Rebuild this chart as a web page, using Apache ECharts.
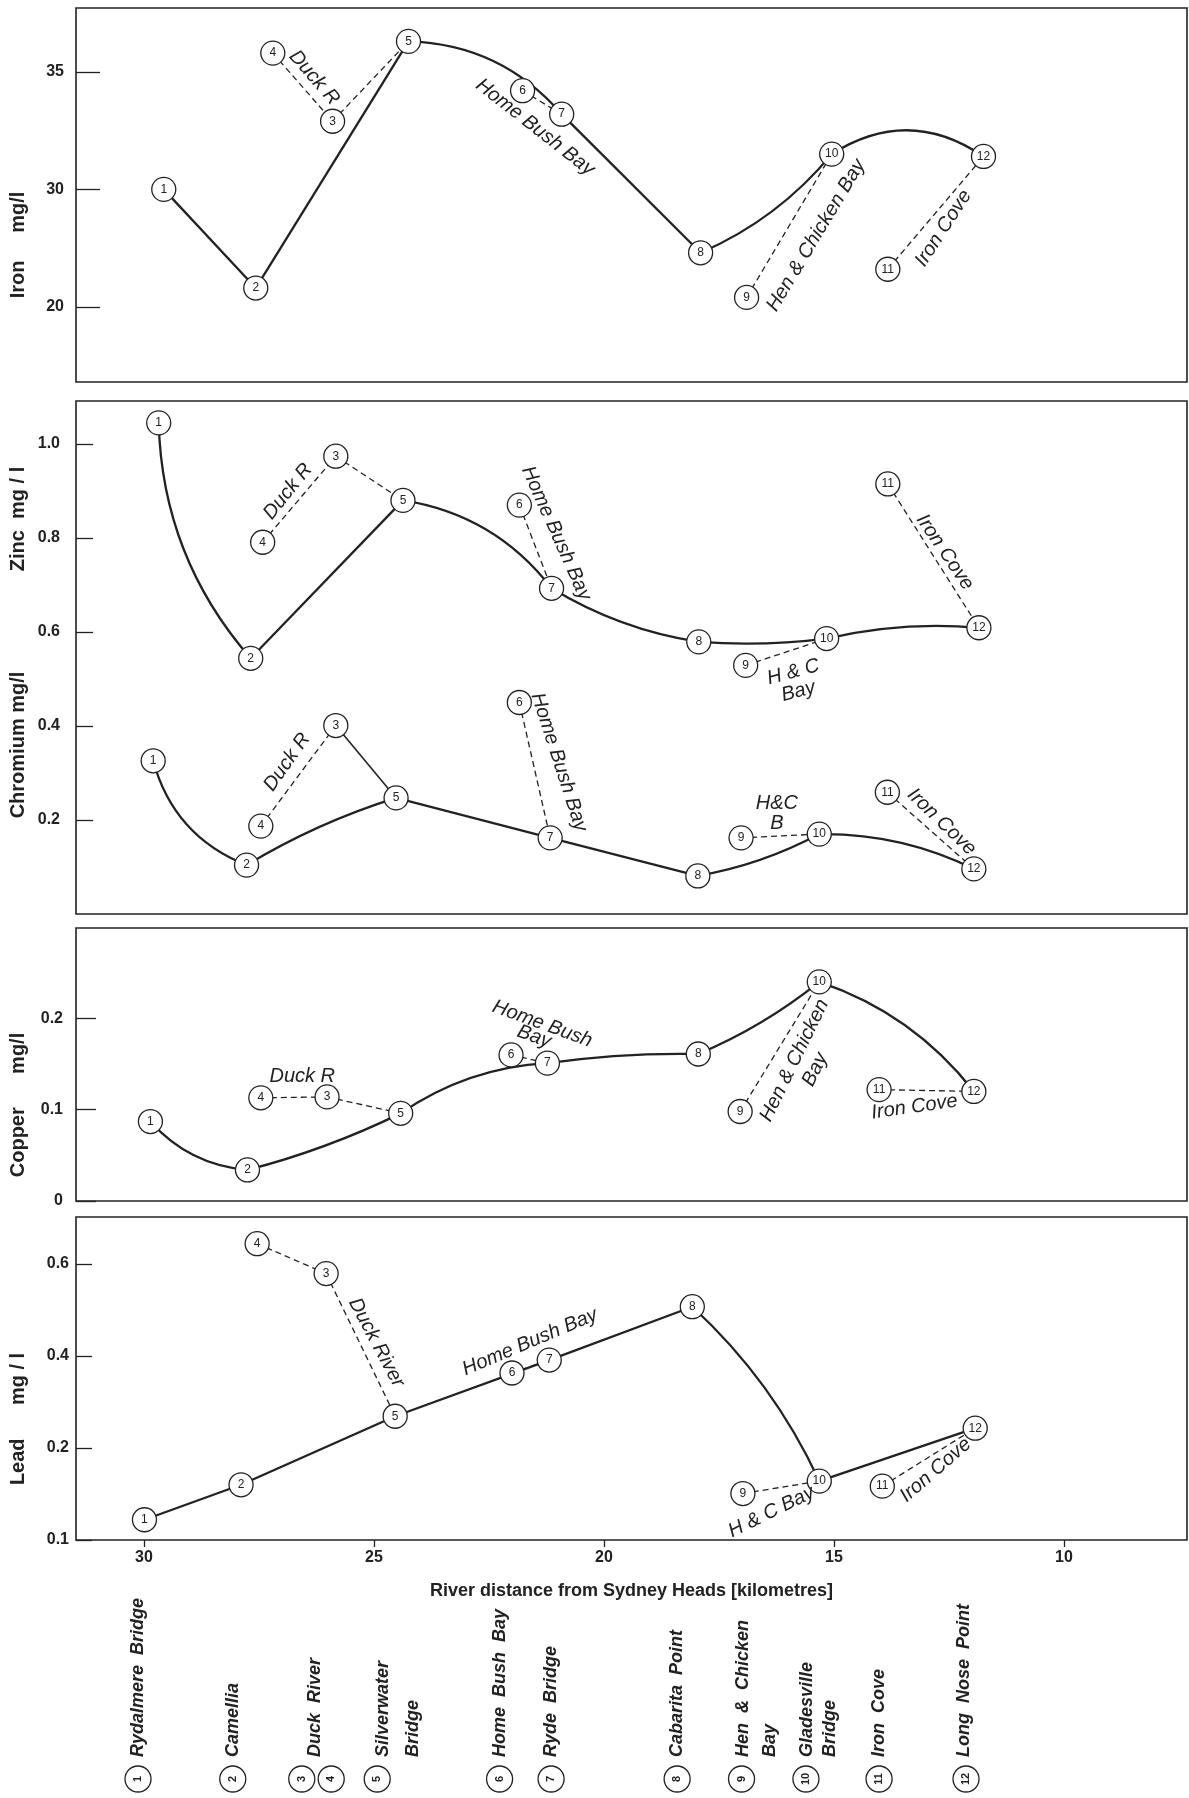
<!DOCTYPE html>
<html>
<head>
<meta charset="utf-8">
<title>Parramatta River - heavy metals</title>
<script src="https://cdn.jsdelivr.net/npm/echarts@6/dist/echarts.min.js"></script>
<style>
html, body { margin: 0; padding: 0; background: #fff; }
#chart { width: 1189px; height: 1798px; }
</style>
</head>
<body>
<div id="chart"></div>
<script>
// sampling stations 1..12
const stationNo = ['1', '2', '3', '4', '5', '6', '7', '8', '9', '10', '11', '12'];

// river distance from Sydney Heads (km) where each station is plotted, per panel (hand drawn, so they drift a bit)
const ironKm = [29.57, 27.57, 25.90, 27.20, 24.25, 21.77, 20.92, 17.90, 16.90, 15.05, 13.83, 11.75];
const zincKm = [29.68, 27.68, 25.83, 27.42, 24.37, 21.84, 21.14, 17.94, 16.92, 15.16, 13.83, 11.85];
const chromiumKm = [29.80, 27.77, 25.83, 27.46, 24.52, 21.84, 21.17, 17.96, 17.02, 15.32, 13.84, 11.96];
const copperKm = [29.86, 27.75, 26.02, 27.46, 24.42, 22.02, 21.23, 17.95, 17.04, 15.32, 14.02, 11.96];
const leadKm = [29.99, 27.89, 26.04, 27.54, 24.54, 22.00, 21.19, 18.08, 16.98, 15.32, 13.95, 11.93];

// concentrations (mg/l) per station 1..12
const iron = [30.0, 25.8, 32.9, 35.8, 36.3, 34.2, 33.2, 27.3, 25.4, 31.5, 26.6, 31.4];
const zinc = [1.045, 0.544, 0.974, 0.791, 0.880, 0.870, 0.693, 0.579, 0.529, 0.586, 0.915, 0.609];
const chromium = [0.326, 0.104, 0.401, 0.187, 0.247, 0.450, 0.162, 0.081, 0.162, 0.170, 0.259, 0.096];
const copper = [0.087, 0.034, 0.114, 0.113, 0.096, 0.160, 0.151, 0.161, 0.098, 0.240, 0.122, 0.120];
const lead = [0.044, 0.120, 0.579, 0.644, 0.269, 0.363, 0.391, 0.507, 0.101, 0.128, 0.117, 0.243];

// main river course and the side branches (dashed)
const mainRoute = [1, 2, 5, 7, 8, 10, 12];
const sideRoutes = [[4, 3], [3, 5], [6, 7], [9, 10], [11, 12]];

// hand-drawn bend of each main-course segment (1-2, 2-5, 5-7, 7-8, 8-10, 10-12)
const ironBend = [0, 0, 0.22, 0, -0.12, 0.33];
const zincBend = [-0.18, 0, 0.2, -0.1, -0.05, 0.08];
const chromiumBend = [-0.25, 0.06, 0, 0, -0.08, 0.12];
const copperBend = [-0.2, -0.05, 0.14, 0.04, -0.07, 0.15];
const leadBend = [0, 0, 0, 0, 0.1, 0];

// axis ticks, labels as printed on the original
const xTicks = [30, 25, 20, 15, 10];
const ironTicks = [25, 30, 35];
const ironTickLabels = ['20', '30', '35'];
const zincTicks = [0.2, 0.4, 0.6, 0.8, 1.0];
const zincTickLabels = ['0.2', '0.4', '0.6', '0.8', '1.0'];
const copperTicks = [0, 0.1, 0.2];
const copperTickLabels = ['0', '0.1', '0.2'];
const leadTicks = [0, 0.2, 0.4, 0.6];
const leadTickLabels = ['0.1', '0.2', '0.4', '0.6'];

// station names along the bottom
const labelText = ['Rydalmere  Bridge', 'Camellia', 'Duck  River', 'Silverwater', 'Bridge', 'Home  Bush  Bay',
  'Ryde  Bridge', 'Cabarita  Point', 'Hen  &  Chicken', 'Bay', 'Gladesville', 'Bridge', 'Iron  Cove', 'Long  Nose  Point'];
const labelKm = [30.13, 28.07, 26.28, 24.80, 24.15, 22.27, 21.15, 18.41, 16.98, 16.39, 15.59, 15.09, 14.02, 12.17];
const circleKm = [30.13, 28.07, 26.57, 25.93, 24.93, 22.27, 21.15, 18.41, 17.01, 15.61, 14.02, 12.13];

// branch notes: [grid, text, km, value, angle deg]
const notes = [
  [0, 'Duck R', 26.3, 34.75, -49],
  [0, 'Home Bush Bay', 21.5, 32.64, -38],
  [0, 'Hen & Chicken Bay', 15.39, 28.04, 59],
  [0, 'Iron Cove', 12.62, 28.34, 57],
  [1, 'Duck R', 26.87, 0.899, 51],
  [1, 'Home Bush Bay', 21.04, 0.81, -66],
  [1, 'H & C\nBay', 15.83, 0.494, 15],
  [1, 'Iron Cove', 12.59, 0.770, -56],
  [1, 'Duck R', 26.89, 0.323, 55],
  [1, 'Home Bush Bay', 20.98, 0.323, -72],
  [1, 'H&C\nB', 16.24, 0.213, 0],
  [1, 'Iron Cove', 12.66, 0.196, -44],
  [2, 'Duck R', 26.56, 0.136, 0],
  [2, 'Home Bush', 21.34, 0.194, -20],
  [2, 'Bay', 21.52, 0.180, -20],
  [2, 'Hen & Chicken', 15.86, 0.154, 64],
  [2, 'Bay', 15.41, 0.144, 64],
  [2, 'Iron Cove', 13.25, 0.103, 8],
  [3, 'Duck River', 24.95, 0.429, -62],
  [3, 'Home Bush Bay', 21.61, 0.430, 23],
  [3, 'H & C Bay', 16.36, 0.061, 26],
  [3, 'Iron Cove', 12.79, 0.152, 41]
];

const FONT = '"Liberation Sans", Arial, sans-serif';
const INK = '#222';

const panels = [
  { grid: 0, km: ironKm, values: iron, bend: ironBend, solid: [] },
  { grid: 1, km: zincKm, values: zinc, bend: zincBend, solid: [] },
  { grid: 1, km: chromiumKm, values: chromium, bend: chromiumBend, solid: ['3-5'] },
  { grid: 2, km: copperKm, values: copper, bend: copperBend, solid: [] },
  { grid: 3, km: leadKm, values: lead, bend: leadBend, solid: [] }
];

function pt(p, n) {
  return [p.km[n - 1], p.values[n - 1]];
}

let series = [];
panels.forEach(p => {
  let mainSegs = [];
  for (let i = 0; i < mainRoute.length - 1; i++) {
    mainSegs.push({
      coords: [pt(p, mainRoute[i]), pt(p, mainRoute[i + 1])],
      lineStyle: { curveness: p.bend[i] }
    });
  }
  series.push({
    type: 'lines',
    coordinateSystem: 'cartesian2d',
    xAxisIndex: p.grid, yAxisIndex: p.grid,
    data: mainSegs,
    silent: true,
    lineStyle: { color: INK, width: 2.3, opacity: 1 },
    z: 2
  });
  sideRoutes.forEach(r => {
    const solid = p.solid.indexOf(r[0] + '-' + r[1]) >= 0;
    series.push({
      type: 'lines',
      coordinateSystem: 'cartesian2d',
      xAxisIndex: p.grid, yAxisIndex: p.grid,
      data: [{ coords: r.map(n => pt(p, n)) }],
      silent: true,
      lineStyle: { color: INK, width: solid ? 1.6 : 1.3, opacity: 1, type: solid ? 'solid' : [6, 4] },
      z: 2
    });
  });
  series.push({
    type: 'scatter',
    xAxisIndex: p.grid, yAxisIndex: p.grid,
    data: p.km.map((km, i) => ({ value: [km, p.values[i]], name: stationNo[i] })),
    symbol: 'circle',
    symbolSize: 24,
    itemStyle: { color: '#fff', borderColor: INK, borderWidth: 1.3, opacity: 1 },
    label: {
      show: true, position: 'inside', formatter: '{b}',
      color: INK, fontSize: 12, fontFamily: '"Liberation Sans Narrow", ' + FONT
    },
    z: 4
  });
});

function yAxis(grid, min, max, ticks, labels, tickLen, margin) {
  return {
    type: 'value', gridIndex: grid, min: min, max: max,
    axisLine: { show: false },
    splitLine: { show: false },
    axisTick: { show: true, inside: true, length: tickLen, customValues: ticks, lineStyle: { color: INK, width: 1.3 } },
    axisLabel: {
      customValues: ticks, margin: margin,
      formatter: v => labels[ticks.indexOf(v)],
      color: INK, fontSize: 16, fontWeight: 'bold', fontFamily: FONT
    }
  };
}

function xAxis(grid, visible) {
  return {
    type: 'value', gridIndex: grid, min: 7.326, max: 31.478, inverse: true,
    show: visible,
    axisLine: { show: false },
    splitLine: { show: false },
    axisTick: { show: true, length: 7, customValues: xTicks, lineStyle: { color: INK, width: 1.3 } },
    axisLabel: { customValues: xTicks, margin: 10, color: INK, fontSize: 16, fontWeight: 'bold', fontFamily: FONT },
    name: visible ? 'River distance from Sydney Heads [kilometres]' : '',
    nameLocation: 'middle', nameGap: 42,
    nameTextStyle: { color: INK, fontSize: 18, fontWeight: 'bold', fontFamily: FONT }
  };
}

const gridStyle = { show: true, borderColor: INK, borderWidth: 1.6, left: 76, right: 2 };

const option = {
  animation: false,
  backgroundColor: '#fff',
  grid: [
    Object.assign({ top: 8, height: 374 }, gridStyle),
    Object.assign({ top: 401, height: 513 }, gridStyle),
    Object.assign({ top: 928, height: 273 }, gridStyle),
    Object.assign({ top: 1217, height: 323 }, gridStyle)
  ],
  xAxis: [xAxis(0, false), xAxis(1, false), xAxis(2, false), xAxis(3, true)],
  yAxis: [
    yAxis(0, 21.8, 37.72, ironTicks, ironTickLabels, 24, 12),
    yAxis(1, 0, 1.0915, zincTicks, zincTickLabels, 17, 16),
    yAxis(2, 0, 0.299, copperTicks, copperTickLabels, 20, 13),
    yAxis(3, 0, 0.702, leadTicks, leadTickLabels, 16, 7)
  ],
  series: series
};

const chart = echarts.init(document.getElementById('chart'), null, { renderer: 'canvas' });
chart.setOption(option);

let graphic = [];

notes.forEach(a => {
  const p = chart.convertToPixel({ gridIndex: a[0] }, [a[2], a[3]]);
  graphic.push({
    type: 'text', x: p[0], y: p[1], rotation: a[4] * Math.PI / 180, z: 5,
    style: { text: a[1], font: 'italic 20px ' + FONT, fill: INK, textAlign: 'center', textVerticalAlign: 'middle' }
  });
});

// y axis titles
const yTitles = [['Iron     mg/l', 245], ['Zinc  mg / l', 519], ['Chromium mg/l', 745], ['Copper      mg/l', 1105], ['Lead      mg / l', 1419]];
yTitles.forEach(t => {
  graphic.push({
    type: 'text', x: 18, y: t[1], rotation: Math.PI / 2, z: 5,
    style: { text: t[0], font: 'bold 20px ' + FONT, fill: INK, textAlign: 'center', textVerticalAlign: 'middle' }
  });
});

// station names under the axis
labelText.forEach((t, i) => {
  const x = chart.convertToPixel({ xAxisIndex: 3 }, labelKm[i]);
  graphic.push({
    type: 'text', x: x, y: 1757, rotation: Math.PI / 2, z: 5,
    style: { text: t, font: 'italic bold 18px ' + FONT, fill: INK, textAlign: 'left', textVerticalAlign: 'middle' }
  });
});
circleKm.forEach((km, i) => {
  const x = chart.convertToPixel({ xAxisIndex: 3 }, km);
  graphic.push({
    type: 'circle', shape: { cx: x, cy: 1779, r: 13 }, z: 5,
    style: { fill: '#fff', stroke: INK, lineWidth: 1.3 }
  });
  graphic.push({
    type: 'text', x: x, y: 1779, rotation: Math.PI / 2, z: 6,
    style: { text: stationNo[i], font: 'bold 11px ' + FONT, fill: INK, textAlign: 'center', textVerticalAlign: 'middle' }
  });
});

chart.setOption({ graphic: graphic });
</script>
</body>
</html>
